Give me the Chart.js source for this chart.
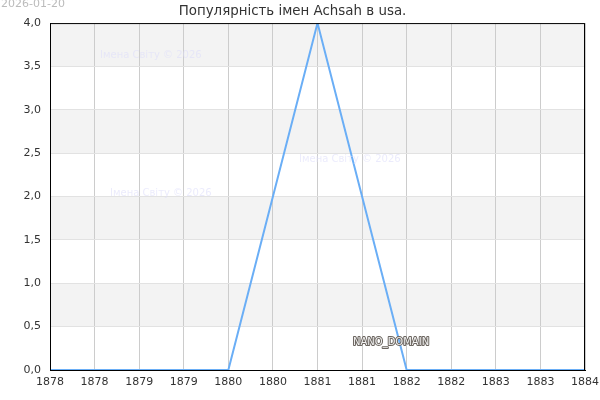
<!DOCTYPE html>
<html>
<head>
<meta charset="utf-8">
<script src="https://cdn.jsdelivr.net/npm/chart.js@4/dist/chart.umd.min.js"></script>
<style>
  html, body { margin: 0; padding: 0; background: #fff; }
  #wrap { width: 600px; height: 400px; }
</style>
</head>
<body>
<div id="wrap"><canvas id="namesChart"></canvas></div>
<script>
// data
const years = [1878, 1879, 1880, 1881, 1882, 1883, 1884];
const counts = [0, 0, 0, 4, 0, 0, 0];
const xTickLabels = ["1878", "1878", "1879", "1879", "1880", "1880", "1881",
                     "1881", "1882", "1882", "1883", "1883", "1884"];
const yTickLabels = ["0,0", "0,5", "1,0", "1,5", "2,0", "2,5", "3,0", "3,5", "4,0"];
const shadedBands = [[0.5, 1], [1.5, 2], [2.5, 3], [3.5, 4]];

const titleText = "Популярність імен Achsah в usa.";
const watermark = "Імена Світу © 2026";

// grey bands behind the plot, frame and stamps on top
const decorPlugin = {
    id: "decor",
    beforeDraw(chart) {
        const ctx = chart.ctx;
        const area = chart.chartArea;
        const y = chart.scales.y;
        ctx.save();
        ctx.fillStyle = "#f3f3f3";
        shadedBands.forEach(function (b) {
            const top = y.getPixelForValue(b[1]);
            const bottom = y.getPixelForValue(b[0]);
            ctx.fillRect(area.left, top, area.right - area.left, bottom - top);
        });
        ctx.restore();
    },
    afterDraw(chart) {
        const ctx = chart.ctx;
        const area = chart.chartArea;
        ctx.save();
        ctx.strokeStyle = "#000";
        ctx.lineWidth = 1;
        ctx.strokeRect(area.left + 0.5, area.top + 0.5, area.right - area.left - 1, area.bottom - area.top);

        ctx.font = "11px 'DejaVu Sans'";
        ctx.textBaseline = "middle";
        ctx.fillStyle = "#bbbbbb";
        ctx.fillText("2026-01-20", 1, 4);

        ctx.font = "10px 'DejaVu Sans'";
        ctx.fillStyle = "rgba(222, 222, 250, 0.6)";
        ctx.fillText(watermark, 100, 55);
        ctx.fillText(watermark, 299, 159);
        ctx.fillText(watermark, 110, 193);

        ctx.lineWidth = 2;
        ctx.lineJoin = "round";
        ctx.strokeStyle = "#6b655f";
        ctx.strokeText("NANO_DOMAIN", 353, 342);
        ctx.fillStyle = "#f2f2f2";
        ctx.fillText("NANO_DOMAIN", 353, 342);
        ctx.restore();
    }
};

const ctx = document.getElementById("namesChart").getContext("2d");
const namesChart = new Chart(ctx, {
    type: "line",
    data: {
        datasets: [{
            data: years.map(function (yr, i) { return { x: yr, y: counts[i] }; }),
            borderColor: "#6aaef6",
            borderWidth: 2,
            pointRadius: 0,
            tension: 0,
            fill: false,
        }],
    },
    options: {
        responsive: true,
        maintainAspectRatio: false,
        animation: false,
        layout: { padding: { left: 0, right: 15, top: 0, bottom: 0 } },
        plugins: {
            legend: { display: false },
            tooltip: { enabled: false },
            title: {
                display: true,
                text: titleText,
                color: "#333",
                font: { family: "DejaVu Sans", size: 13.4, weight: "normal" },
                padding: { top: 3, bottom: 4 },
            },
        },
        scales: {
            x: {
                type: "linear",
                min: 1878,
                max: 1884,
                ticks: {
                    stepSize: 0.5,
                    autoSkip: false,
                    maxRotation: 0,
                    color: "#333",
                    padding: 6,
                    font: { family: "DejaVu Sans", size: 11 },
                    callback: function (value, index) { return xTickLabels[index]; },
                },
                grid: { color: "#cccccc", drawTicks: false },
                border: { color: "#000" },
                afterFit: function (scale) {
                    scale.height = 30;
                    scale.paddingLeft = 0;
                    scale.paddingRight = 0;
                },
            },
            y: {
                min: 0,
                max: 4,
                ticks: {
                    stepSize: 0.5,
                    color: "#333",
                    padding: 9,
                    font: { family: "DejaVu Sans", size: 11 },
                    callback: function (value, index) { return yTickLabels[index]; },
                },
                grid: { color: "#e2e2e2", drawTicks: false },
                border: { color: "#000" },
                afterFit: function (scale) {
                    scale.width = 50;
                    scale.paddingTop = 0;
                    scale.paddingBottom = 0;
                },
            },
        },
    },
    plugins: [decorPlugin],
});
</script>
</body>
</html>
